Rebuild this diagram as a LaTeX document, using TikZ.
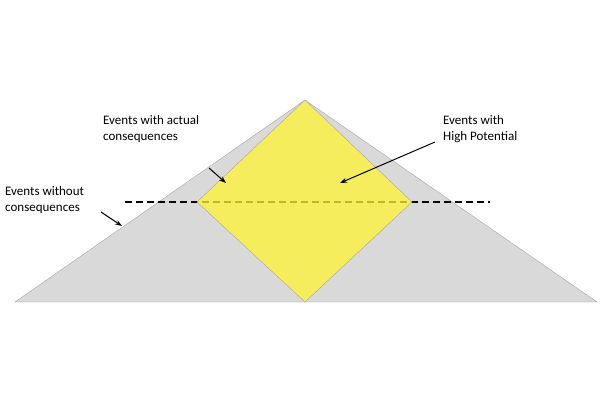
\documentclass[tikz,border=0pt]{standalone}
\usepackage{fontspec}
\setmainfont{Carlito}
\usetikzlibrary{arrows.meta}
\tikzset{
  lbl/.style={align=left, inner sep=0pt, font=\fontsize{13}{16}\selectfont},
  pointer/.style={-{Stealth[length=7pt,width=5pt]}, line width=1pt}
}
\begin{document}
\begin{tikzpicture}[x=1pt,y=1pt]
        \useasboundingbox (0,0) rectangle (600,400);
        % outer triangle
        \coordinate (apex) at (305,300);
        \coordinate (bl) at (15,98);
        \coordinate (br) at (597,98);
        \draw[fill=gray!30, draw=gray!70] (bl) -- (apex) -- (br) -- cycle;
        % dashed level
        \coordinate (dl) at (125,198);
        \coordinate (dr) at (490,198);
        \draw[line width=1.6pt, dash pattern=on 7pt off 4pt] (dl) -- (dr);
        % high potential diamond
        \coordinate (dtop) at (305,300);
        \coordinate (dleft) at (197,198);
        \coordinate (dright) at (412,198);
        \coordinate (dbot) at (305,98);
        \draw[fill=yellow!80!white, fill opacity=0.75, draw=gray!70] (dtop) -- (dright) -- (dbot) -- (dleft) -- cycle;

        \node[lbl, anchor=north west] (actual) at (103,285) {Events with actual\\consequences};
        \node[lbl, anchor=north west] (without) at (5,214) {Events without\\consequences};
        \node[lbl, anchor=north west] (high) at (443,285) {Events with\\High Potential};

        \coordinate (actualfrom) at (209,232);
        \coordinate (actualtip) at (226,217);
        \coordinate (withoutfrom) at (101,188);
        \coordinate (withouttip) at (122,174);
        \coordinate (highfrom) at (435,258);
        \coordinate (hightip) at (340,217);
        \draw[pointer] (actualfrom) -- (actualtip);
        \draw[pointer] (withoutfrom) -- (withouttip);
        \draw[pointer] (highfrom) -- (hightip);
    \end{tikzpicture}
\end{document}
